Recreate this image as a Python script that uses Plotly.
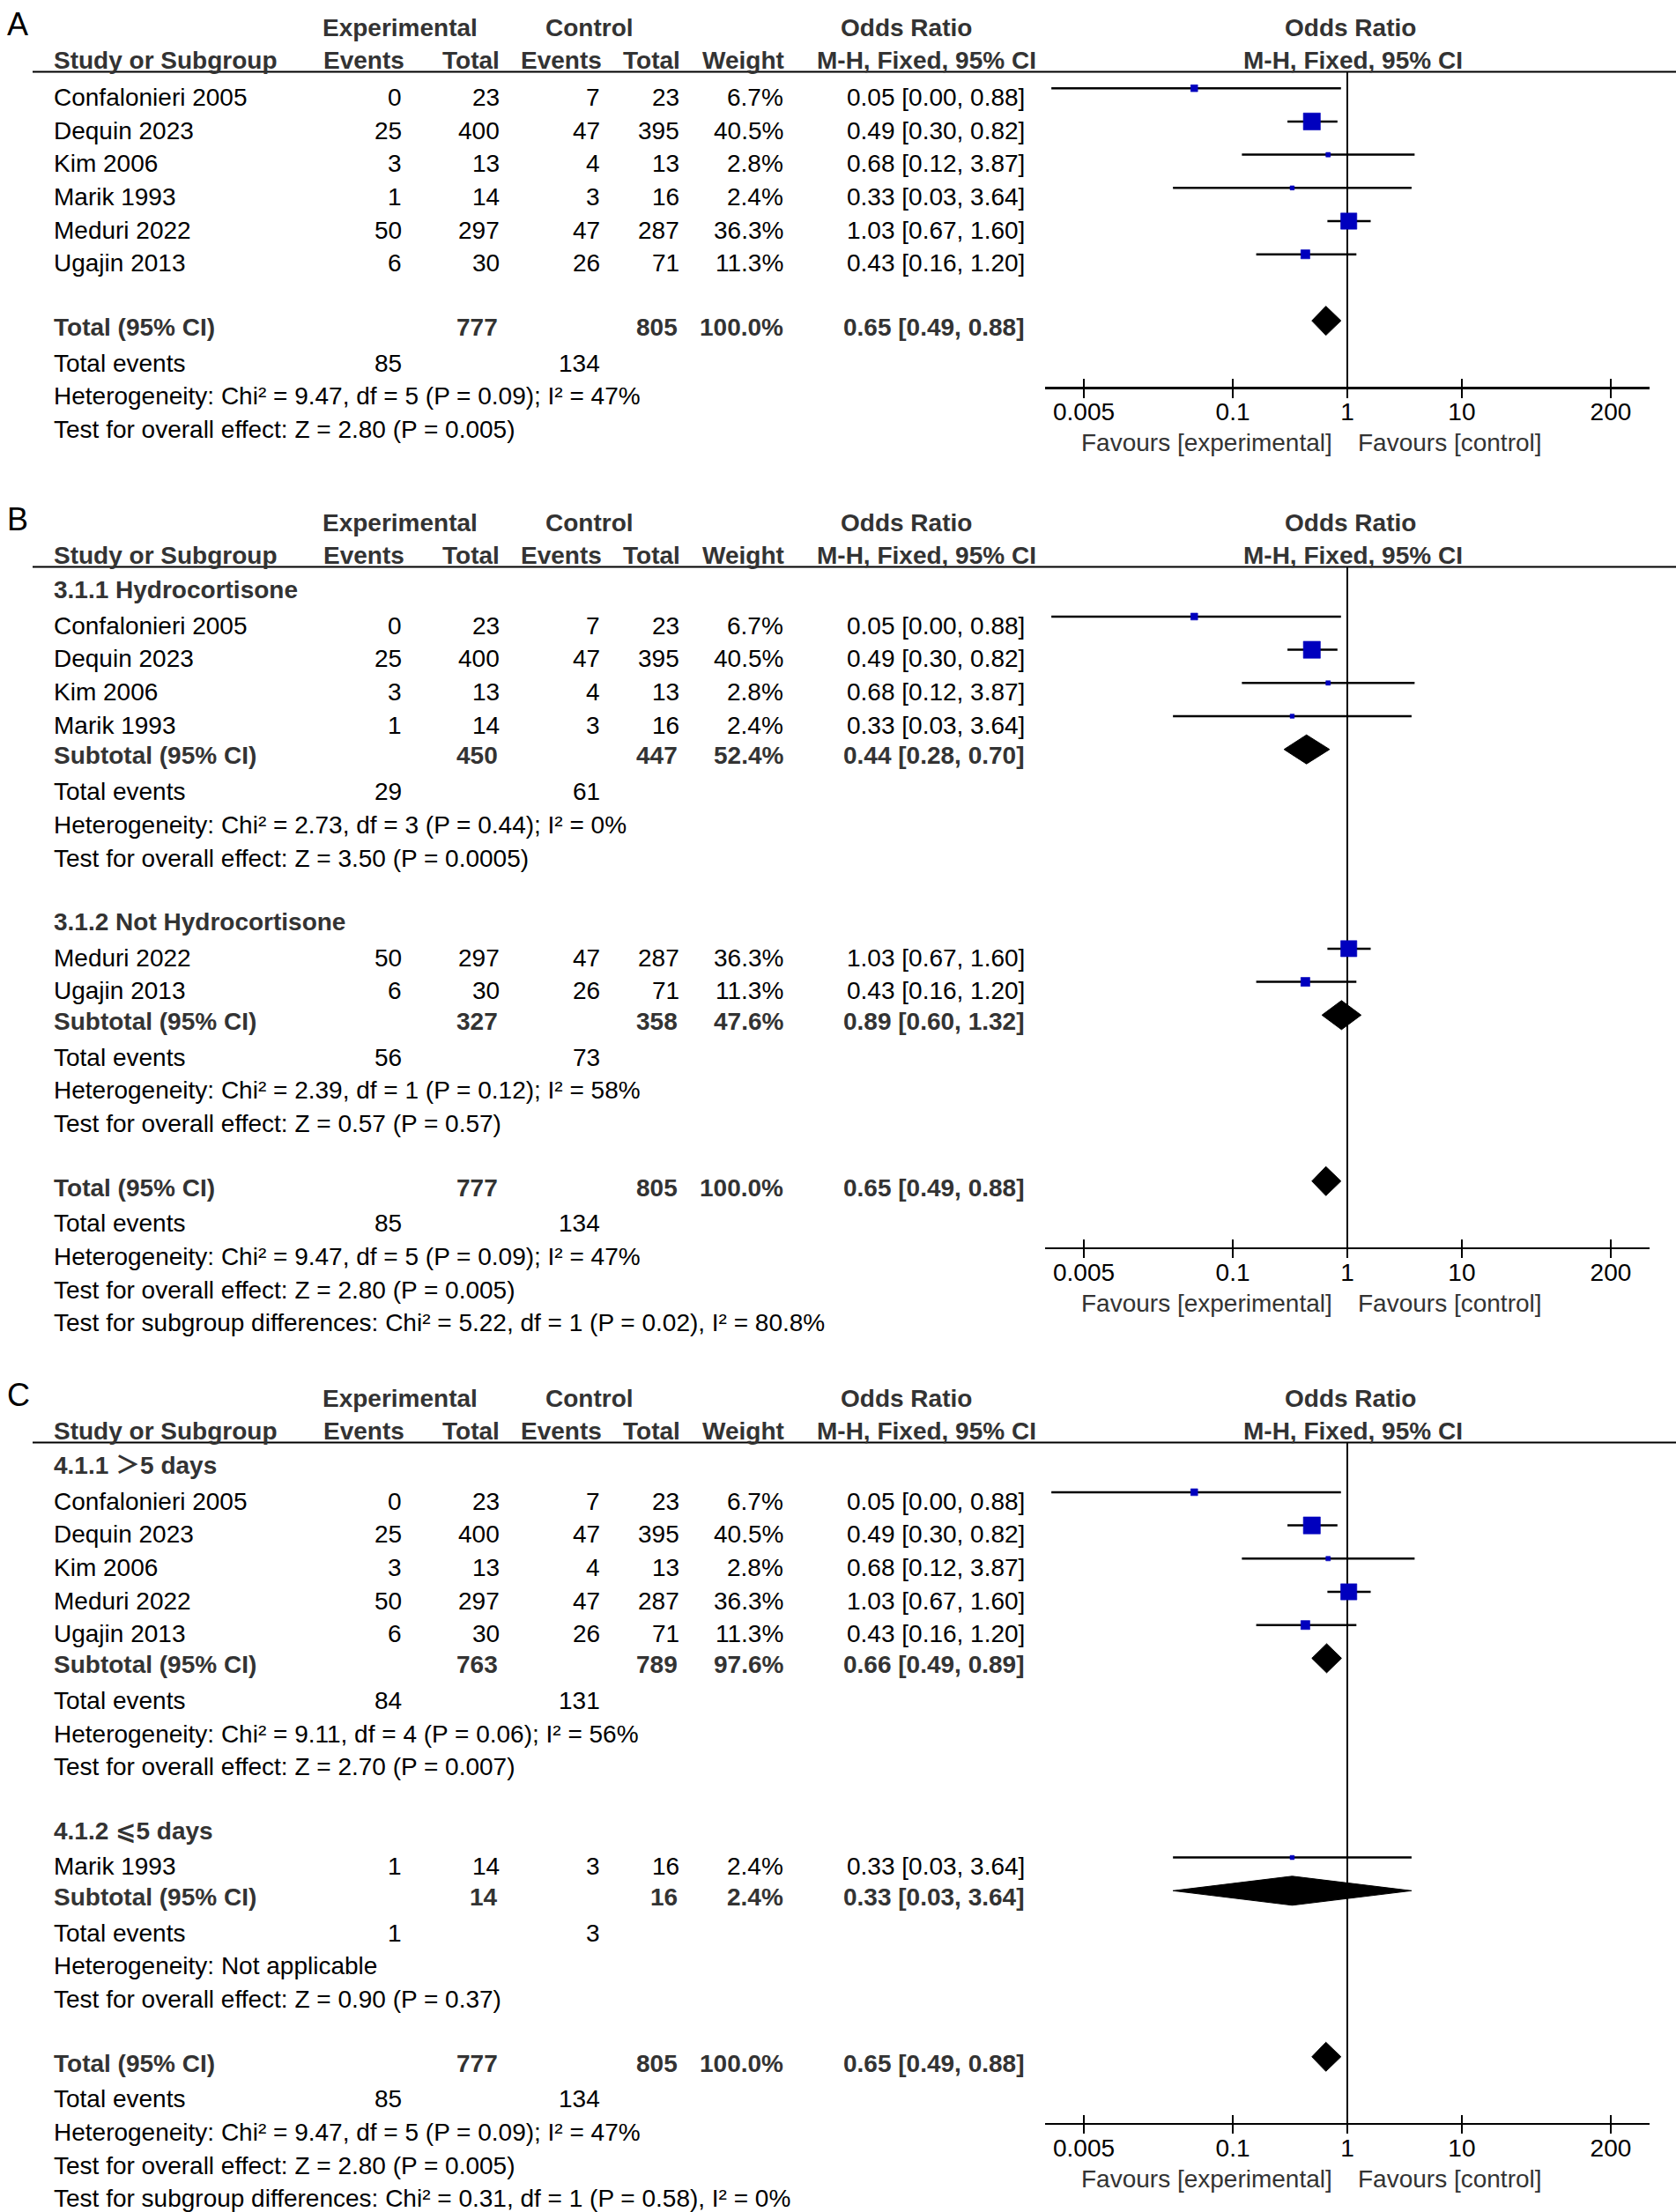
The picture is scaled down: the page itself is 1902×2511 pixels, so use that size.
import plotly.graph_objects as go

# ---------------- data ----------------
studies = ["Confalonieri 2005", "Dequin 2023", "Kim 2006", "Marik 1993", "Meduri 2022", "Ugajin 2013"]
exp_events = [0, 25, 3, 1, 50, 6]
exp_total = [23, 400, 13, 14, 297, 30]
ctl_events = [7, 47, 4, 3, 47, 26]
ctl_total = [23, 395, 13, 16, 287, 71]
weights = [6.7, 40.5, 2.8, 2.4, 36.3, 11.3]
or_est = [0.046, 0.49, 0.68, 0.33, 1.03, 0.43]
or_lo = [0.0026, 0.30, 0.12, 0.03, 0.67, 0.16]
or_hi = [0.88, 0.82, 3.87, 3.64, 1.60, 1.20]

# overall (fixed effect) result
tot_exp_total, tot_ctl_total = 777, 805
tot_exp_events, tot_ctl_events = 85, 134
tot_weight = 100.0
tot_or, tot_lo, tot_hi = 0.65, 0.49, 0.88
tot_het = "Heterogeneity: Chi² = 9.47, df = 5 (P = 0.09); I² = 47%"
tot_z = "Test for overall effect: Z = 2.80 (P = 0.005)"

# panel B subgroups
b_names = ["3.1.1 Hydrocortisone", "3.1.2 Not Hydrocortisone"]
b_members = [[0, 1, 2, 3], [4, 5]]
b_exp_total = [450, 327]
b_ctl_total = [447, 358]
b_exp_events = [29, 56]
b_ctl_events = [61, 73]
b_weight = [52.4, 47.6]
b_or = [0.44, 0.89]
b_lo = [0.28, 0.60]
b_hi = [0.70, 1.32]
b_het = ["Heterogeneity: Chi² = 2.73, df = 3 (P = 0.44); I² = 0%",
         "Heterogeneity: Chi² = 2.39, df = 1 (P = 0.12); I² = 58%"]
b_z = ["Test for overall effect: Z = 3.50 (P = 0.0005)",
       "Test for overall effect: Z = 0.57 (P = 0.57)"]
b_diff = "Test for subgroup differences: Chi² = 5.22, df = 1 (P = 0.02), I² = 80.8%"

# panel C subgroups
c_names = ["4.1.1 ＞5 days", "4.1.2 ⩽5 days"]
c_members = [[0, 1, 2, 4, 5], [3]]
c_exp_total = [763, 14]
c_ctl_total = [789, 16]
c_exp_events = [84, 1]
c_ctl_events = [131, 3]
c_weight = [97.6, 2.4]
c_or = [0.66, 0.33]
c_lo = [0.49, 0.03]
c_hi = [0.89, 3.64]
c_het = ["Heterogeneity: Chi² = 9.11, df = 4 (P = 0.06); I² = 56%",
         "Heterogeneity: Not applicable"]
c_z = ["Test for overall effect: Z = 2.70 (P = 0.007)",
       "Test for overall effect: Z = 0.90 (P = 0.37)"]
c_diff = "Test for subgroup differences: Chi² = 0.31, df = 1 (P = 0.58), I² = 0%"

tick_vals = [0.005, 0.1, 1, 10, 200]
tick_text = ["0.005", "0.1", "1", "10", "200"]

# ---------------- layout constants ----------------
W, H = 1902, 2511
ROW = 37.7
FS = 28
FONT = "Liberation Sans, Arial, Noto Sans CJK SC, DejaVu Sans, sans-serif"
BOLD_COL = "#333333"
REG_COL = "#000000"
SQ_COL = "#0000BE"
ROW0 = 120.2
MARK_UP = 20
X_DOM = [1186 / W, 1872 / W]
X_RANGE = [-2.64, 2.64]
COL_LABEL = 61
COL_EXP_EV, COL_EXP_TOT, COL_CTL_EV, COL_CTL_TOT, COL_W, COL_OR = 456, 567, 681, 771, 889, 1163


def fmt_or(o, l, h):
    return f"{o:.2f} [{l:.2f}, {h:.2f}]"


annotations = []
shapes = []
traces = []
layout_axes = {}


def ann(text, x_px, base_px, anchor="left", bold=False, size=FS, color=None, font=FONT):
    if color is None:
        color = BOLD_COL if bold else REG_COL
    y_px = base_px - 0.3465 * size
    annotations.append(dict(
        text=f"<b>{text}</b>" if bold else text,
        x=x_px / W, y=1 - y_px / H, xref="paper", yref="paper",
        xanchor=anchor, yanchor="middle", showarrow=False,
        borderpad=0, borderwidth=0,
        font=dict(family=font, size=size, color=color)))


def overall_rows():
    return [("summary", "Total (95% CI)", tot_exp_total, tot_ctl_total, tot_weight, tot_or, tot_lo, tot_hi),
            ("events", tot_exp_events, tot_ctl_events),
            ("note", tot_het), ("note", tot_z)]


def subgroup_rows(names, members, et, ct, ee, ce, w, o, lo, hi, het, z, diff):
    rows = []
    for g in range(len(names)):
        rows.append(("group", names[g]))
        for i in members[g]:
            rows.append(("study", i))
        rows.append(("summary", "Subtotal (95% CI)", et[g], ct[g], w[g], o[g], lo[g], hi[g]))
        rows.append(("events", ee[g], ce[g]))
        rows.append(("note", het[g]))
        rows.append(("note", z[g]))
        rows.append(("blank",))
    rows += overall_rows()
    axis_row = len(rows) - 1
    rows.append(("note", diff))
    return rows, axis_row


rows_A = [("study", i) for i in range(len(studies))] + [("blank",)] + overall_rows()
axis_A = len(rows_A) - 1
rows_B, axis_B = subgroup_rows(b_names, b_members, b_exp_total, b_ctl_total, b_exp_events, b_ctl_events,
                               b_weight, b_or, b_lo, b_hi, b_het, b_z, b_diff)
rows_C, axis_C = subgroup_rows(c_names, c_members, c_exp_total, c_ctl_total, c_exp_events, c_ctl_events,
                               c_weight, c_or, c_lo, c_hi, c_het, c_z, c_diff)


def build_panel(idx, letter, rows, off, axis_row):
    xa = "x" if idx == 1 else f"x{idx}"
    ya = "y" if idx == 1 else f"y{idx}"
    xo = f"x{idx + 3}"
    base0 = ROW0 + off
    line_px = 81.4 + off
    axis_px = base0 + ROW * axis_row - 58
    mark0 = base0 - MARK_UP
    r_top = (line_px - mark0) / ROW
    r_bot = (axis_px - mark0) / ROW

    # panel letter and headers
    ann(letter, 8, 40 + off, size=36, color="#000000")
    h1 = 41 + off
    ann("Experimental", 454, h1, "center", True)
    ann("Control", 669, h1, "center", True)
    ann("Odds Ratio", 1028, h1, "center", True)
    ann("Odds Ratio", 1532, h1, "center", True)
    h2 = 78.7 + off
    ann("Study or Subgroup", COL_LABEL, h2, "left", True)
    ann("Events", 459, h2, "right", True)
    ann("Total", 567, h2, "right", True)
    ann("Events", 683, h2, "right", True)
    ann("Total", 772, h2, "right", True)
    ann("Weight", 890, h2, "right", True)
    ann("M-H, Fixed, 95% CI", 1051, h2, "center", True)
    ann("M-H, Fixed, 95% CI", 1535, h2, "center", True)
    shapes.append(dict(type="line", xref="paper", yref="paper", x0=37 / W, x1=1.0,
                       y0=1 - line_px / H, y1=1 - line_px / H, line=dict(color="#000000", width=2)))

    ci_x, ci_y, sq_x, sq_y, sq_s = [], [], [], [], []
    for r, row in enumerate(rows):
        b = base0 + ROW * r
        kind = row[0]
        if kind == "study":
            i = row[1]
            ann(studies[i], COL_LABEL, b)
            ann(str(exp_events[i]), COL_EXP_EV, b, "right")
            ann(str(exp_total[i]), COL_EXP_TOT, b, "right")
            ann(str(ctl_events[i]), COL_CTL_EV, b, "right")
            ann(str(ctl_total[i]), COL_CTL_TOT, b, "right")
            ann(f"{weights[i]:.1f}%", COL_W, b, "right")
            ann(fmt_or(or_est[i], or_lo[i], or_hi[i]), COL_OR, b, "right")
            ci_x += [or_lo[i], or_hi[i], None]
            ci_y += [r, r, None]
            sq_x.append(or_est[i])
            sq_y.append(r)
            sq_s.append(3.03 * weights[i] ** 0.5)
        elif kind == "group":
            ann(row[1], COL_LABEL, b - 3, "left", True)
        elif kind == "summary":
            _, label, et, ct, w, o, lo, hi = row
            bb = b - 3
            ann(label, COL_LABEL, bb, "left", True)
            ann(str(et), COL_EXP_TOT - 2, bb, "right", True)
            ann(str(ct), COL_CTL_TOT - 2, bb, "right", True)
            ann(f"{w:.1f}%", COL_W, bb, "right", True)
            ann(fmt_or(o, lo, hi), COL_OR - 1, bb, "right", True)
            hh = 16.5 / ROW
            traces.append(go.Scatter(x=[lo, o, hi, o, lo], y=[r, r - hh, r, r + hh, r],
                                     xaxis=xa, yaxis=ya, mode="lines", fill="toself",
                                     fillcolor="#000000", line=dict(color="#000000", width=1),
                                     hoverinfo="skip", showlegend=False))
        elif kind == "events":
            ann("Total events", COL_LABEL, b)
            ann(str(row[1]), COL_EXP_EV, b, "right")
            ann(str(row[2]), COL_CTL_EV, b, "right")
        elif kind == "note":
            ann(row[1], COL_LABEL, b)

    # line of no effect
    traces.append(go.Scatter(x=[1, 1], y=[r_top, r_bot], xaxis=xa, yaxis=ya, mode="lines",
                             line=dict(color="#000000", width=2), hoverinfo="skip", showlegend=False))
    traces.append(go.Scatter(x=ci_x, y=ci_y, xaxis=xa, yaxis=ya, mode="lines",
                             line=dict(color="#000000", width=2.5), hoverinfo="skip", showlegend=False))
    traces.append(go.Scatter(x=sq_x, y=sq_y, xaxis=xa, yaxis=ya, mode="markers",
                             marker=dict(symbol="square", size=sq_s, color=SQ_COL, opacity=1,
                                         line=dict(width=0.6, color=SQ_COL)),
                             hoverinfo="skip", showlegend=False))
    traces.append(go.Scatter(x=[1], y=[r_top], xaxis=xo, yaxis=ya, mode="markers",
                             marker=dict(opacity=0), hoverinfo="skip", showlegend=False))

    # favours labels
    x1_px = X_DOM[0] * W + (0 - X_RANGE[0]) / (X_RANGE[1] - X_RANGE[0]) * (X_DOM[1] - X_DOM[0]) * W
    fav_b = axis_px + 73.4
    ann("Favours [experimental]", x1_px - 17, fav_b, "right", color="#333333")
    ann("Favours [control]", x1_px + 12, fav_b, "left", color="#333333")

    xkey = "xaxis" if idx == 1 else f"xaxis{idx}"
    ykey = "yaxis" if idx == 1 else f"yaxis{idx}"
    layout_axes[xkey] = dict(type="log", range=X_RANGE, domain=X_DOM, anchor=ya,
                             showline=True, linecolor="#000000", linewidth=2.5,
                             ticks="outside", ticklen=10, tickwidth=2, tickcolor="#000000",
                             tickvals=tick_vals, ticktext=tick_text, ticklabelstandoff=-8,
                             tickfont=dict(family=FONT, size=FS, color="#000000"),
                             showgrid=False, zeroline=False, fixedrange=True)
    layout_axes[f"xaxis{idx + 3}"] = dict(type="log", range=X_RANGE, domain=X_DOM, anchor=ya,
                                          overlaying=xa, side="bottom",
                                          ticks="inside", ticklen=9, tickwidth=2, tickcolor="#000000",
                                          tickvals=tick_vals, showticklabels=False, showline=False,
                                          showgrid=False, zeroline=False, fixedrange=True)
    layout_axes[ykey] = dict(range=[r_bot, r_top], domain=[1 - axis_px / H, 1 - line_px / H],
                             visible=False, fixedrange=True, anchor=xa)


build_panel(1, "A", rows_A, 0, axis_A)
build_panel(2, "B", rows_B, 562, axis_B)
build_panel(3, "C", rows_C, 1556, axis_C)

fig = go.Figure(data=traces)
fig.update_layout(width=W, height=H, margin=dict(l=0, r=0, t=0, b=0),
                  paper_bgcolor="white", plot_bgcolor="rgba(0,0,0,0)",
                  showlegend=False, hovermode=False,
                  annotations=annotations, shapes=shapes, **layout_axes)
fig.write_html("out.html", config={"displayModeBar": False, "staticPlot": True},
               post_script="document.body.style.margin='0';")
